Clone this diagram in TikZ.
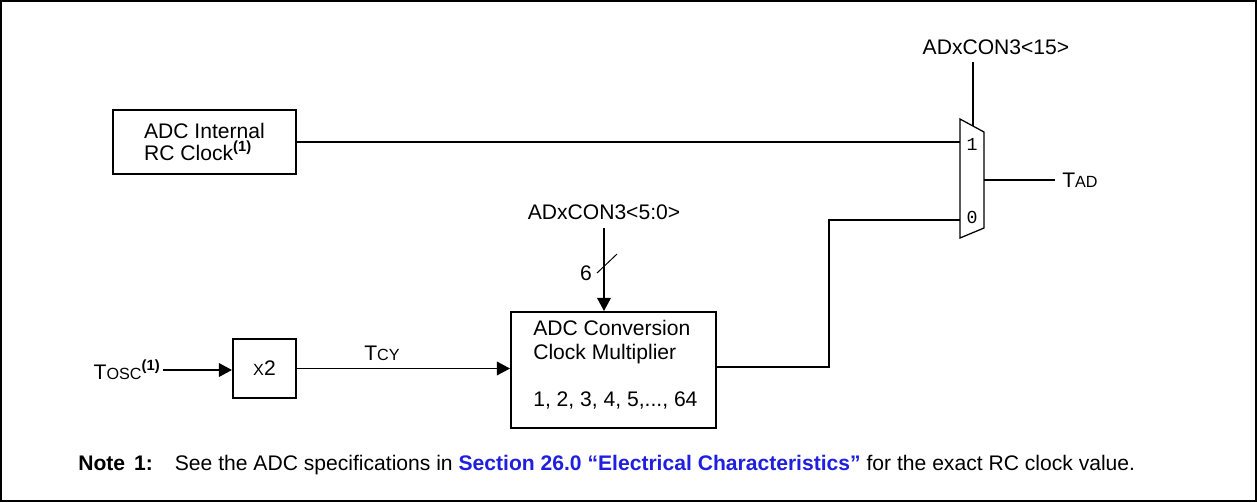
\documentclass[tikz,border=0pt]{standalone}
\usepackage{fontspec}
\setmainfont{Liberation Sans}
\setmonofont{Liberation Mono}
\usepackage{tikz}
\usetikzlibrary{arrows.meta,positioning,calc}
\definecolor{linkblue}{HTML}{1F1FE0}
\newlength\pix
\setlength\pix{0.025cm}
\newcommand{\lowcap}[1]{{\fontsize{11.5}{12}\selectfont #1}}
\newcommand{\fnmark}{\raisebox{6.5pt}{\fontsize{10.5}{10.5}\selectfont\bfseries(1)}}
\tikzset{
  >={Triangle[length=3.3mm,width=3.4mm]},
  wire/.style={line width=1.4pt,draw=black},
  sig/.style={->,wire},
  blk/.style={draw=black,line width=1.4pt,align=left,inner sep=0pt,
    font=\fontsize{15}{15.6}\selectfont},
  lbl/.style={inner sep=0pt,font=\fontsize{15}{17}\selectfont},
  muxdigit/.style={inner sep=0pt,font=\fontsize{13}{13}\ttfamily},
  muxline/.style={line width=0.9pt,draw=black},
  frame/.style={line width=1pt,draw=black},
  notetext/.style={inner sep=0pt,font=\fontsize{15}{15}\selectfont}
}
\begin{document}
\begin{tikzpicture}[x=0.025cm,y=-0.025cm]
  \useasboundingbox (0,0) rectangle (1257,502);
  \draw[frame] (1,1) rectangle (1256,501);

  % blocks
  \node[blk,minimum width=183\pix,minimum height=64\pix] (rcclk) at (204.5,142) {ADC Internal\\RC Clock\fnmark};
  \node[blk,minimum width=63\pix,minimum height=59\pix] (dbl) at (264.5,368.5) {\lowcap{X}2};
  \node[blk,minimum width=205\pix,minimum height=116\pix] (mult) at (613.5,370) {};
  \node[lbl,align=left,anchor=north west] (multtxt) at ([xshift=23\pix,yshift=-9\pix]mult.north west)
    {ADC Conversion\\Clock Multiplier\\[23\pix]1, 2, 3, 4, 5,..., 64};

  % multiplexer
  \draw[muxline] (960,119) -- (984,132) -- (984,228) -- (960,238) -- cycle;
  \coordinate (in1) at (960,142);
  \coordinate (in0) at (960,220);
  \coordinate (muxout) at (984,180);
  \coordinate (muxsel) at (973,126);
  \coordinate (seltap) at (973,62);
  \node[muxdigit] (d1) at (972,144) {1};
  \node[muxdigit] (d0) at (972,217) {0};

  % labels
  \node[lbl] (selhi) at (996,47) {ADxCON3<15>};
  \node[lbl,anchor=west] (tad) at (1062,180) {T\lowcap{AD}};
  \node[lbl] (sello) at (604,212) {ADxCON3<5:0>};
  \node[lbl,anchor=east] (tosc) at (160,370) {T\lowcap{OSC}\fnmark};
  \node[lbl] (tcy) at (382,353) {T\lowcap{CY}};
  \node[lbl] (bits) at (586,273) {6};

  % connections
  \draw[wire] (rcclk.east) -- (in1);
  \draw[wire] (seltap) -- (muxsel);
  \draw[wire,shorten >=7\pix] (muxout) -- (tad.west);
  \draw[sig,shorten <=8\pix] (sello.south) -- (sello.south |- mult.north);
  \draw[line width=0.7pt] ($(sello.south |- mult.north)+(-7,-38)$) -- ++(20,-19);
  \draw[sig,shorten <=3\pix] (tosc.east) -- (tosc.east -| dbl.west);
  \draw[sig] (dbl.east) -- (dbl.east -| mult.west);
  \draw[wire] ([yshift=3\pix]mult.east) -| ($(in0)+(-131,0)$) -- (in0);

  % note
  \node[notetext,anchor=base west] (note) at (78,470) {\textbf{Note\hspace{9\pix}1:}\hspace{22\pix}See the ADC specifications in \textcolor{linkblue}{\textbf{Section 26.0 “Electrical Characteristics”}} for the exact RC clock value.};
\end{tikzpicture}
\end{document}
